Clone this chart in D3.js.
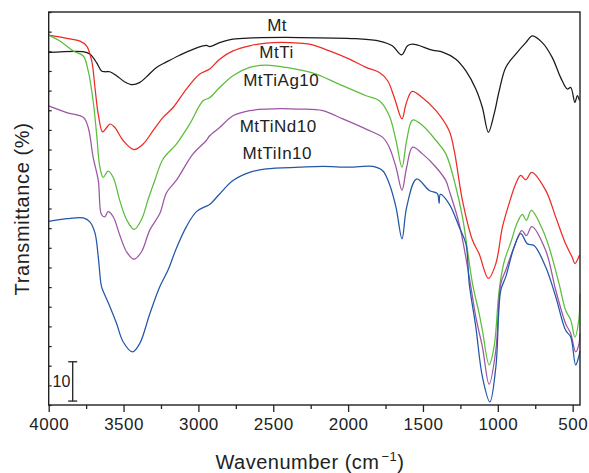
<!DOCTYPE html>
<html><head><meta charset="utf-8">
<script src="https://cdn.jsdelivr.net/npm/d3@7"></script>
<style>
html,body{margin:0;padding:0;background:#fff;}
svg{display:block;}
text{font-family:"Liberation Sans",Arial,Helvetica,sans-serif;fill:#222;}
</style></head>
<body>
<script>
// ---- data: [wavenumber (cm-1), transmittance (%)] ----
const seriesNames = ["Mt","MtTi","MtTiAg10","MtTiNd10","MtTiIn10"];
const seriesColors = ["#1a1a1a","#ee2a24","#5cbd3c","#9b55a3","#2257a8"];

const mtData = [[4000,89.7],[3771,89.9],[3725,89.3],[3680,87.1],[3647,85.0],[3625,84.8],[3592,84.8],[3547,83.8],[3491,82.2],[3440,81.5],[3391,82.1],[3347,83.5],[3280,85.9],[3213,87.3],[3125,89.0],[3036,90.5],[2947,91.5],[2925,91.2],[2858,92.2],[2769,93.1],[2638,93.4],[2325,93.5],[1947,93.2],[1791,92.6],[1705,91.4],[1643,89.1],[1603,91.4],[1569,91.8],[1436,90.3],[1369,89.8],[1280,88.0],[1213,85.0],[1147,80.4],[1103,75.7],[1063,69.4],[1025,74.0],[991,79.9],[947,85.9],[880,89.3],[813,92.2],[769,93.9],[703,92.2],[636,88.4],[580,83.3],[536,80.4],[513,80.8],[485,77.0],[469,78.7],[455,77.5]];

const mtTiData = [[4000,94.1],[3880,93.3],[3791,92.6],[3747,91.4],[3713,87.6],[3691,80.8],[3669,74.0],[3640,69.5],[3613,70.6],[3591,71.5],[3558,70.6],[3503,67.3],[3431,65.0],[3369,66.4],[3303,69.8],[3236,73.2],[3169,75.7],[3080,80.4],[2991,84.2],[2925,85.5],[2858,88.0],[2769,90.1],[2658,91.4],[2547,92.1],[2325,92.1],[2258,91.8],[2125,90.1],[1991,88.0],[1880,85.9],[1791,84.6],[1736,82.5],[1691,78.2],[1640,72.8],[1613,76.6],[1573,79.8],[1503,78.2],[1413,74.9],[1325,69.8],[1291,64.7],[1236,52.0],[1169,41.9],[1125,38.5],[1063,32.2],[1013,36.0],[969,45.3],[925,51.2],[880,56.3],[847,58.4],[813,57.3],[773,59.2],[680,54.6],[613,47.8],[547,41.0],[503,37.6],[485,36.0],[455,38.1]];

const mtTiAgData = [[4000,94.1],[3925,92.6],[3836,90.1],[3769,88.8],[3736,85.0],[3703,77.3],[3680,69.0],[3658,60.5],[3636,57.9],[3603,59.5],[3569,57.9],[3525,52.0],[3480,47.2],[3429,44.7],[3380,47.2],[3336,52.3],[3291,57.2],[3236,62.6],[3147,66.4],[3058,71.5],[2969,77.4],[2925,78.2],[2858,80.8],[2769,83.8],[2658,85.9],[2547,86.5],[2413,85.9],[2325,85.3],[2213,84.2],[2058,81.6],[1880,78.7],[1791,77.4],[1725,73.6],[1680,67.3],[1640,60.5],[1609,67.3],[1569,72.5],[1503,71.1],[1413,67.3],[1347,63.9],[1280,55.4],[1236,47.8],[1169,30.9],[1125,23.3],[1103,19.0],[1058,10.2],[1025,14.8],[991,29.2],[958,36.4],[913,41.4],[869,46.5],[836,48.5],[809,47.0],[776,49.5],[703,44.8],[658,40.2],[591,30.9],[547,24.1],[513,21.6],[485,17.3],[458,22.0],[452,28.3]];

const mtTiNdData = [[4000,76.1],[3880,74.4],[3769,73.2],[3736,70.6],[3703,63.0],[3669,57.2],[3647,48.4],[3625,47.9],[3603,49.2],[3569,47.9],[3525,43.2],[3480,39.0],[3431,37.1],[3380,39.0],[3325,44.5],[3258,48.7],[3213,54.0],[3147,57.2],[3036,63.9],[2947,67.3],[2925,68.5],[2858,70.6],[2769,73.6],[2658,74.9],[2547,75.3],[2325,75.3],[2169,74.9],[2036,72.8],[1880,70.2],[1769,68.1],[1725,65.6],[1680,60.5],[1640,54.7],[1609,60.5],[1569,65.6],[1503,63.9],[1413,60.5],[1347,57.1],[1325,54.6],[1258,46.1],[1191,32.6],[1147,22.4],[1103,14.8],[1058,5.3],[1013,14.0],[980,30.9],[947,34.3],[891,40.2],[840,44.4],[809,43.1],[773,45.4],[680,39.3],[613,29.2],[547,20.7],[513,18.2],[480,13.5],[458,15.5],[452,18.2]];

const mtTiInData = [[4000,46.7],[3880,47.4],[3769,47.6],[3725,46.6],[3691,43.8],[3669,37.7],[3647,30.1],[3625,28.0],[3591,25.0],[3547,20.8],[3503,16.1],[3440,13.5],[3391,15.7],[3324,23.3],[3258,30.1],[3202,34.4],[3147,39.9],[3080,45.4],[3013,49.2],[2947,50.6],[2925,51.0],[2858,53.7],[2769,57.1],[2658,59.2],[2547,60.1],[2325,60.5],[2169,60.7],[1991,60.5],[1836,60.7],[1769,59.6],[1725,56.3],[1680,50.3],[1640,42.3],[1609,50.3],[1543,57.5],[1458,54.6],[1404,53.8],[1392,51.3],[1384,53.6],[1325,51.2],[1258,45.3],[1213,41.0],[1191,30.9],[1147,19.9],[1103,7.2],[1053,0.8],[1013,9.7],[980,29.2],[947,32.6],[891,40.2],[847,43.6],[802,41.0],[758,40.6],[680,35.1],[613,27.5],[547,19.0],[513,17.3],[480,10.2],[458,12.5],[452,13.7]];

const allData = [mtData, mtTiData, mtTiAgData, mtTiNdData, mtTiInData];

// label anchor values (wavenumber center, transmittance at baseline)
const labelWn = [2474, 2478, 2447, 2467, 2473];
const labelT = [95.2, 88.3, 81.2, 69.5, 62.7];

const xMajorTicks = [4000,3500,3000,2500,2000,1500,1000,500];
const xMinorTicks = [3750,3250,2750,2250,1750,1250,750];
const yTicks = d3.range(0, 101, 5);
const scaleBarValue = 10;

// ---- layout ----
const W = 589, H = 473;
const mLeft = 48.7, mRight = 580, mTop = 12, mBottom = 405;

const svg = d3.select("body").append("svg").attr("width", W).attr("height", H);

const x = d3.scaleLinear().domain([4000, 451]).range([mLeft, mRight]);
const y = d3.scaleLinear().domain([0, 100]).range([mBottom, mTop]);

// curves
const line = d3.line().x(d => x(d[0])).y(d => y(d[1])).curve(d3.curveCatmullRom.alpha(0.5));
const g = svg.append("g");
allData.forEach((data, i) => {
  g.append("path").datum(data).attr("d", line)
    .attr("fill", "none").attr("stroke", seriesColors[i])
    .attr("stroke-width", 1.25).attr("stroke-linejoin", "round");
});

// frame
svg.append("rect").attr("x", mLeft).attr("y", mTop).attr("width", mRight-mLeft).attr("height", mBottom-mTop)
  .attr("fill", "none").attr("stroke", "#222").attr("stroke-width", 1.4);

// x axis
const xAxis = d3.axisBottom(x).tickValues(xMajorTicks).tickSize(7).tickSizeOuter(0).tickPadding(6).tickFormat(d3.format("d"));
const xg = svg.append("g").attr("transform", `translate(0,${mBottom})`).call(xAxis);
xg.select(".domain").remove();
xg.selectAll(".tick line").attr("stroke", "#222").attr("stroke-width", 1.3);
xg.selectAll(".tick text").attr("font-size", 17).attr("letter-spacing", "0.5px")
  .style("font-family", '"Liberation Sans",Arial,sans-serif').attr("fill", "#222");
const xm = d3.axisBottom(x).tickValues(xMinorTicks).tickSize(4).tickFormat("");
const xmg = svg.append("g").attr("transform", `translate(0,${mBottom})`).call(xm);
xmg.select(".domain").remove();
xmg.selectAll(".tick line").attr("stroke", "#222").attr("stroke-width", 1.3);

// y axis (inward ticks, no labels)
const yAxis = d3.axisLeft(y).tickValues(yTicks).tickSize(-3).tickFormat("");
const yg = svg.append("g").attr("transform", `translate(${mLeft},0)`).call(yAxis);
yg.select(".domain").remove();
yg.selectAll(".tick line").attr("stroke", "#222").attr("stroke-width", 1.2);

// scale bar
const sbX = 72.7;
const sb = svg.append("g").attr("stroke", "#222").attr("stroke-width", 1.3);
const sbLow = 1, sbHigh = sbLow + scaleBarValue;
sb.append("line").attr("x1", sbX).attr("x2", sbX).attr("y1", y(sbLow)).attr("y2", y(sbHigh));
sb.append("line").attr("x1", sbX-4.5).attr("x2", sbX+4.5).attr("y1", y(sbLow)).attr("y2", y(sbLow));
sb.append("line").attr("x1", sbX-4.5).attr("x2", sbX+4.5).attr("y1", y(sbHigh)).attr("y2", y(sbHigh));
svg.append("text").attr("x", 61.5).attr("y", 387).attr("text-anchor", "middle")
  .attr("font-size", 16).text(String(scaleBarValue));

// series labels
seriesNames.forEach((name, i) => {
  svg.append("text").attr("x", x(labelWn[i])).attr("y", y(labelT[i]))
    .attr("text-anchor", "middle").attr("font-size", 17).attr("letter-spacing", "0.5px").text(name);
});

// axis titles
const xt = svg.append("text").attr("x", 310).attr("y", 469).attr("text-anchor", "middle")
  .attr("font-size", 20).attr("letter-spacing", "0.5px");
xt.append("tspan").text("Wavenumber (cm");
xt.append("tspan").attr("font-size", 13).attr("dx", 2).attr("dy", -8).text("\u22121");
xt.append("tspan").attr("dy", 8).text(")");

svg.append("text").attr("transform", "translate(28.5,209) rotate(-90)").attr("text-anchor", "middle")
  .attr("font-size", 20).attr("letter-spacing", "0.6px").text("Transmittance (%)");
</script>
</body></html>
